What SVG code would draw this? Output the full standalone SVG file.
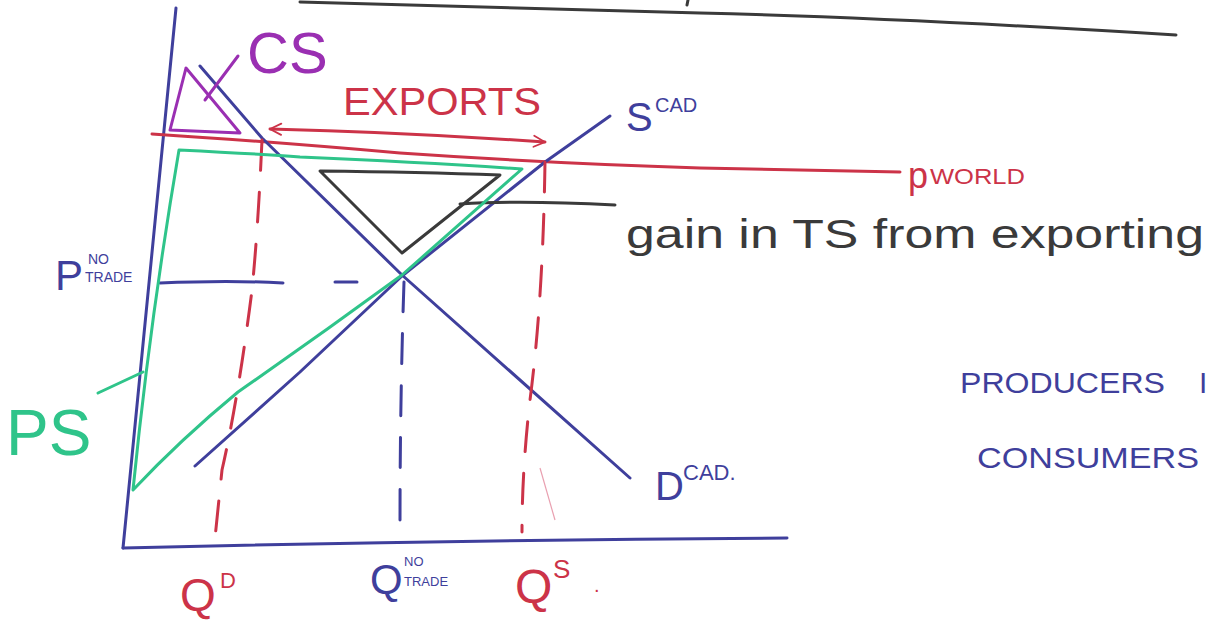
<svg xmlns="http://www.w3.org/2000/svg" width="1206" height="626" viewBox="0 0 1206 626">
<style>
.ln{fill:none;stroke-linecap:round;stroke-linejoin:round;stroke-width:3}
.blue{stroke:#3f3f9c}.red{stroke:#cc3348}.green{stroke:#2fc48a}.purple{stroke:#9a2fb2}.black{stroke:#3a3a3a}
.dash{stroke-dasharray:30 22}
.t{font-family:"Liberation Sans","DejaVu Sans",sans-serif}
.tb{fill:#3f3f9c}.tr{fill:#cc3348}.tg{fill:#2fc48a}.tp{fill:#9a2fb2}.tk{fill:#3a3a3a}
</style>
<defs>
<marker id="chev" viewBox="0 0 20 20" refX="18" refY="10" markerWidth="14" markerHeight="14" markerUnits="userSpaceOnUse" orient="auto-start-reverse">
<path d="M2,2 L18,10 L2,18" fill="none" stroke="#cc3348" stroke-width="2.5" stroke-linecap="round"/>
</marker>
</defs>
<rect width="1206" height="626" fill="#ffffff"/>

<g id="top-rule">
<path class="ln black" d="M300,2 Q500,8 700,13 T1176,35"/>
<path class="ln black" d="M688,0 L687,5"/>
</g>

<g id="axes">
<path class="ln blue" d="M176,8 L123,548"/>
<path class="ln blue" d="M123,548 Q450,540 787,538"/>
</g>

<g id="connectors">
<path class="ln red" d="M152,134 Q262,141 400,153 Q545,163 700,168 L900,172"/>
<path class="ln blue" d="M195,466 L300,372 L402,276 L545,162 L610,116"/>
<path class="ln blue" d="M200,66 L262,138 L402,275 L630,478"/>
<path class="ln red dash" d="M262,140 Q258,230 252,290 Q238,400 222,470 L215,538"/>
<path class="ln red dash" d="M545,162 Q543,300 530,400 Q522,470 522,532"/>
<path d="M540,468 L555,520" fill="none" stroke="#e9a0b0" stroke-width="1.2"/>
<path class="ln blue dash" d="M404,282 Q400,400 400,525" stroke-width="2"/>
<path class="ln blue" stroke-width="1.8" d="M160,283 Q230,280 283,283"/>
<path class="ln blue" stroke-width="1.8" d="M335,282 L357,282"/>
<path class="ln red" marker-start="url(#chev)" marker-end="url(#chev)" d="M270,129 Q400,132 545,142"/>
<path class="ln purple" d="M205,100 L238,56"/>
<path class="ln green" d="M98,393 L143,372"/>
<path class="ln black" d="M460,204 Q520,200 615,205"/>
</g>

<g id="cs-area">
<path class="ln purple" stroke-width="4" d="M186,68 L170,130 L240,133 Z"/>
</g>

<g id="ps-area">
<path class="ln green" d="M179,150 Q260,154 300,157 Q420,162 522,169 Q470,215 402,275 Q320,335 238,392 Q180,440 133,490 Q150,320 179,150 Z"/>
</g>

<g id="ts-gain">
<path class="ln black" stroke-width="4" d="M320,171 Q420,172 500,175 L402,253 Z"/>
</g>

<g id="labels">
<text class="t tp" x="247" y="73" font-size="58">CS</text>
<text class="t tr" x="343" y="115" font-size="38" textLength="198" lengthAdjust="spacingAndGlyphs">EXPORTS</text>
<text class="t tb" x="626" y="131" font-size="40">S</text>
<text class="t tb" x="655" y="112" font-size="20">CAD</text>
<text class="t tr" x="908" y="188" font-size="36">p</text>
<text class="t tr" x="930" y="184" font-size="22" textLength="95" lengthAdjust="spacingAndGlyphs">WORLD</text>
<text class="t tk" x="626" y="248" font-size="40" textLength="578" lengthAdjust="spacingAndGlyphs">gain in TS from exporting</text>
<text class="t tb" x="55" y="290" font-size="42">P</text>
<text class="t tb" x="88" y="264" font-size="14">NO</text>
<text class="t tb" x="85" y="282" font-size="14">TRADE</text>
<text class="t tg" x="6" y="455" font-size="64">PS</text>
<text class="t tb" x="960" y="393" font-size="30" textLength="205" lengthAdjust="spacingAndGlyphs">PRODUCERS</text>
<text class="t tb" x="1199" y="393" font-size="30">I</text>
<text class="t tb" x="977" y="468" font-size="30" textLength="222" lengthAdjust="spacingAndGlyphs">CONSUMERS</text>
<text class="t tb" x="655" y="500" font-size="40">D</text>
<text class="t tb" x="683" y="480" font-size="22">CAD.</text>
<text class="t tr" x="180" y="611" font-size="46">Q</text>
<text class="t tr" x="220" y="588" font-size="22">D</text>
<text class="t tb" x="370" y="594" font-size="42">Q</text>
<text class="t tb" x="404" y="566" font-size="13">NO</text>
<text class="t tb" x="404" y="586" font-size="13">TRADE</text>
<text class="t tr" x="515" y="603" font-size="48">Q</text>
<text class="t tr" x="553" y="578" font-size="26">S</text>
<text class="t tr" x="594" y="592" font-size="20">.</text>
</g>
</svg>
